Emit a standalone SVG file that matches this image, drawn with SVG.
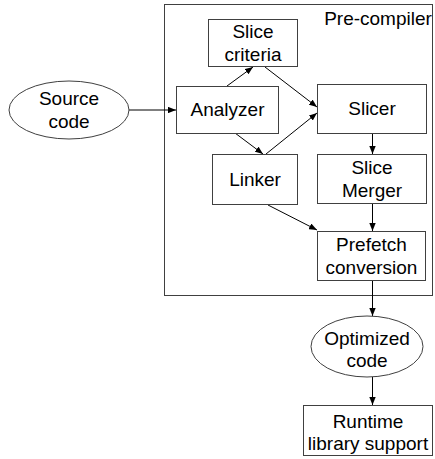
<svg xmlns="http://www.w3.org/2000/svg" width="435" height="459" viewBox="0 0 435 459">
  <style>
    .box { fill: #ffffff; stroke: #404040; stroke-width: 1; }
    .frame { fill: none; stroke: #404040; stroke-width: 1; }
    .lbl { font-family: "Liberation Sans", Arial, sans-serif; font-size: 19px; fill: #000000; text-anchor: middle; }
    .edge { fill: none; stroke: #000000; stroke-width: 1; marker-end: url(#arrow); }
  </style>
  <defs>
    <marker id="arrow" viewBox="0 0 10 8" refX="10" refY="4" markerWidth="8" markerHeight="6.4" markerUnits="userSpaceOnUse" orient="auto">
      <path d="M0,0 L10,4 L0,8 Z" fill="#000000"/>
    </marker>
  </defs>

  <rect width="435" height="459" fill="#ffffff"/>

  <!-- pre-compiler frame -->
  <g id="precompiler">
    <rect class="frame" x="164.5" y="4.5" width="268" height="291"/>
    <text class="lbl" x="378" y="25">Pre-compiler</text>
  </g>

  <g id="connectors">
    <line class="edge" x1="129" y1="110" x2="176" y2="110"/>
    <line class="edge" x1="227" y1="86" x2="253" y2="67"/>
    <line class="edge" x1="265" y1="67" x2="317" y2="107"/>
    <line class="edge" x1="235" y1="133" x2="263" y2="154"/>
    <line class="edge" x1="266" y1="154" x2="317" y2="113"/>
    <line class="edge" x1="268" y1="205" x2="317" y2="230"/>
    <line class="edge" x1="372.5" y1="133" x2="372.5" y2="154"/>
    <line class="edge" x1="372.5" y1="203" x2="372.5" y2="231"/>
    <line class="edge" x1="372.5" y1="280" x2="372.5" y2="316"/>
    <line class="edge" x1="372.5" y1="377" x2="372.5" y2="405"/>
  </g>

  <g id="source-code">
    <ellipse class="box" cx="69" cy="110" rx="60" ry="29"/>
    <text class="lbl" x="69" y="105">Source</text>
    <text class="lbl" x="69" y="128">code</text>
  </g>

  <g id="slice-criteria">
    <rect class="box" x="208.5" y="19.5" width="89" height="47"/>
    <text class="lbl" x="253" y="38">Slice</text>
    <text class="lbl" x="253" y="61">criteria</text>
  </g>

  <g id="analyzer">
    <rect class="box" x="176.5" y="86.5" width="102" height="47"/>
    <text class="lbl" x="227.5" y="116">Analyzer</text>
  </g>

  <g id="linker">
    <rect class="box" x="212.5" y="154.5" width="85" height="50"/>
    <text class="lbl" x="255" y="186">Linker</text>
  </g>

  <g id="slicer">
    <rect class="box" x="317.5" y="84.5" width="109" height="49"/>
    <text class="lbl" x="372" y="115">Slicer</text>
  </g>

  <g id="slice-merger">
    <rect class="box" x="317.5" y="154.5" width="109" height="49"/>
    <text class="lbl" x="372" y="174">Slice</text>
    <text class="lbl" x="372" y="197">Merger</text>
  </g>

  <g id="prefetch-conversion">
    <rect class="box" x="317.5" y="231.5" width="108" height="49"/>
    <text class="lbl" x="371.5" y="251">Prefetch</text>
    <text class="lbl" x="371.5" y="274">conversion</text>
  </g>

  <g id="optimized-code">
    <ellipse class="box" cx="367" cy="346.5" rx="56" ry="30.5"/>
    <text class="lbl" x="367" y="345">Optimized</text>
    <text class="lbl" x="367" y="367">code</text>
  </g>

  <g id="runtime-library">
    <rect class="box" x="303.5" y="405.5" width="129" height="50"/>
    <text class="lbl" x="368" y="428">Runtime</text>
    <text class="lbl" x="368" y="450">library support</text>
  </g>
</svg>
